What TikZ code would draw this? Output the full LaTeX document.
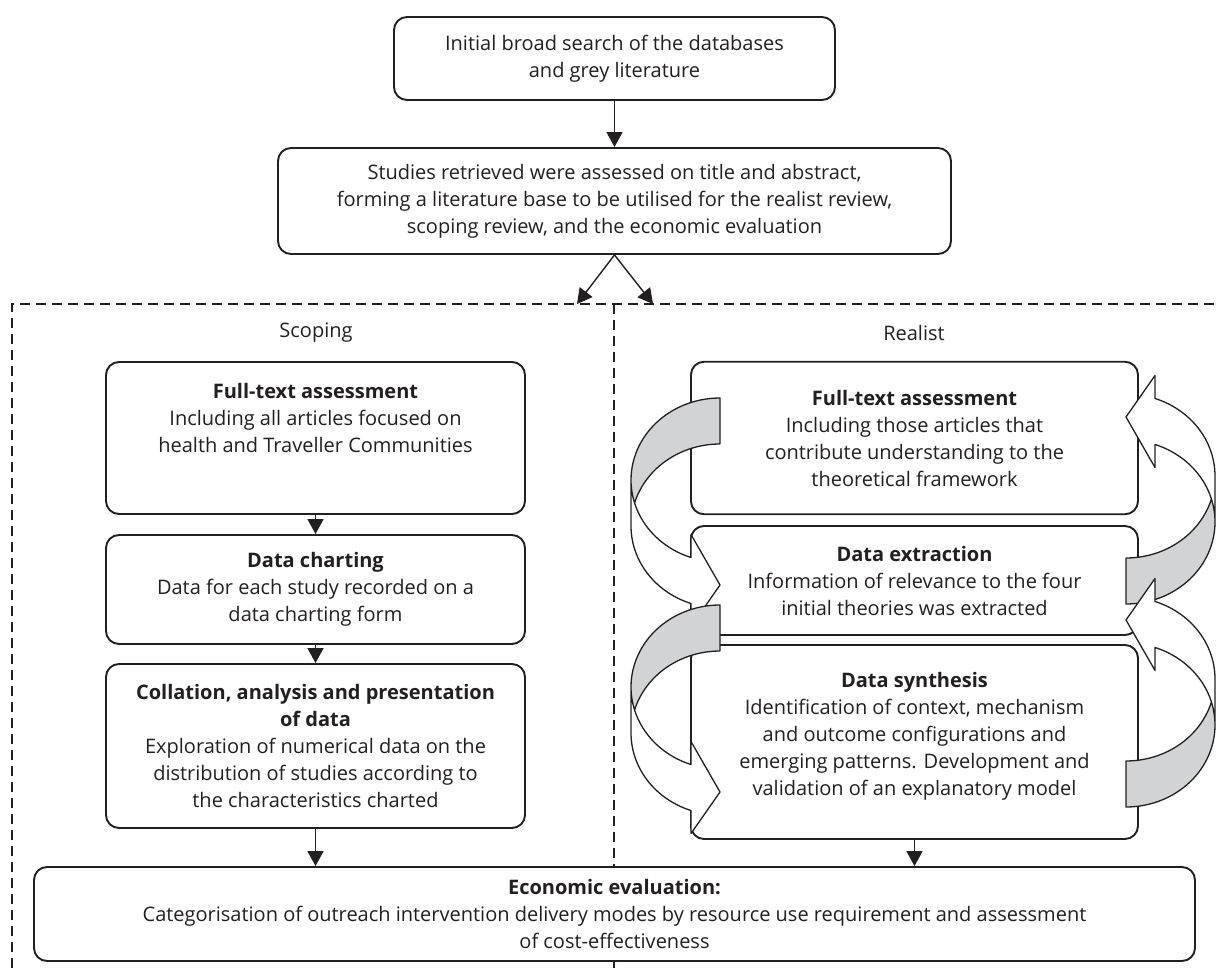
\documentclass[tikz,border=0pt]{standalone}
\usepackage{fontspec}
\setmainfont{Open Sans}
\usetikzlibrary{arrows.meta}
\definecolor{ink}{HTML}{231F20}
\definecolor{backgray}{HTML}{D1D3D4}
\newcommand{\curvarrow}[1]{%
  \begin{scope}[#1]
    \fill[white] plot[domain=180:109.015, samples=30, variable=\t] ({89+89*cos(\t)},{82+82*sin(\t)})
      -- (60,136.52) -- (89,187) -- (60,228.52) -- (60,205.52)
      -- plot[domain=109.015:180, samples=30, variable=\t] ({89+89*cos(\t)},{128+82*sin(\t)}) -- cycle;
    \fill[backgray] (89,46)
      -- plot[domain=270:196.29, samples=30, variable=\t] ({89+89*cos(\t)},{128+82*sin(\t)})
      -- plot[domain=163.71:270, samples=30, variable=\t] ({89+89*cos(\t)},{82+82*sin(\t)}) -- cycle;
    \draw[curv] plot[domain=180:109.015, samples=30, variable=\t] ({89+89*cos(\t)},{82+82*sin(\t)})
      -- (60,136.52) -- (89,187) -- (60,228.52) -- (60,205.52)
      -- plot[domain=109.015:180, samples=30, variable=\t] ({89+89*cos(\t)},{128+82*sin(\t)})
      -- (0,82)
      -- plot[domain=180:270, samples=30, variable=\t] ({89+89*cos(\t)},{82+82*sin(\t)})
      -- (89,46)
      -- plot[domain=270:196.29, samples=30, variable=\t] ({89+89*cos(\t)},{128+82*sin(\t)});
  \end{scope}}
\begin{document}
\begin{tikzpicture}[x=1pt, y=-1pt,
  font=\fontsize{20}{27}\selectfont,
  box/.style={draw=ink, line width=1.9pt, rounded corners=13pt, fill=white,
    align=center, inner sep=0pt, text=ink},
  txt/.style={text=ink, inner sep=0pt},
  conn/.style={draw=ink, line width=1.4pt, -{Triangle[width=16pt,length=15pt]}},
  frame/.style={draw=ink, line width=1.3pt, dash pattern=on 10pt off 6pt},
  curv/.style={draw=ink, line width=1.3pt, line join=round}]
\useasboundingbox (0,0) rectangle (1216,968);
\clip (0,0) rectangle (1216,968);

% dashed frames
\draw[frame] (12,1000) -- (12,304) -- (1230,304);
\draw[frame] (614,304) -- (614,1000);
\coordinate (sTip) at (577,304);
\coordinate (rTip) at (653,304);

\node[txt] (scopingLbl) at (316,333) {Scoping};
\node[txt] (realistLbl) at (914,333) {Realist};

% top boxes
\node[box, minimum width=441, minimum height=83] (init) at (614.5,58.5)
  {Initial broad search of the databases\\and grey literature};
\node[box, minimum width=673, minimum height=106] (retr) at (614.5,201)
  {Studies retrieved were assessed on title and abstract,\\forming a literature base to be utilised for the realist review,\\scoping review, and the economic evaluation};

% scoping column
\node[box, minimum width=419, minimum height=152] (sft) at (315.5,438)
  {\textbf{Full-text assessment}\\Including all articles focused on\\health and Traveller Communities\\[13pt]\mbox{}};
\node[box, minimum width=419, minimum height=109] (sdc) at (315.5,589.5)
  {\textbf{Data charting}\\Data for each study recorded on a\\data charting form};
\node[box, minimum width=419, minimum height=164] (scol) at (315.5,746)
  {\textbf{Collation, analysis and presentation}\\\textbf{of data}\\Exploration of numerical data on the\\distribution of studies according to\\the characteristics charted};

% realist column
\node[box, minimum width=447, minimum height=152.5] (rft) at (914.5,438)
  {\textbf{Full-text assessment}\\Including those articles that\\contribute understanding to the\\theoretical framework};
\node[box, minimum width=447, minimum height=109] (rde) at (914.5,580.5)
  {\textbf{Data extraction}\\Information of relevance to the four\\initial theories was extracted};
\node[box, minimum width=447, minimum height=194] (rds) at (914.5,742)
  {\textbf{Data synthesis}\\Identification of context, mechanism\\and outcome configurations and\\emerging patterns. Development and\\validation of an explanatory model\\[-10pt]\mbox{}};

% economic evaluation
\node[box, minimum width=1161, minimum height=94] (econ) at (614.5,914)
  {\textbf{Economic evaluation:}\\Categorisation of outreach intervention delivery modes by resource use requirement and assessment\\of cost-effectiveness};

% connectors
\draw[conn] (init) -- (retr);
\draw[conn] (retr.south) -- (sTip);
\draw[conn] (retr.south) -- (rTip);
\draw[conn] (sft) -- (sdc);
\draw[conn] (sdc) -- (scol);
\draw[conn] (scol.south) -- (scol.south |- econ.north);
\draw[conn] (rds.south) -- (rds.south |- econ.north);

% curved block arrows
\curvarrow{shift={(631,398)}}
\curvarrow{shift={(631,605)}}
\curvarrow{shift={(1215,604)}, rotate=180}
\curvarrow{shift={(1215,807)}, rotate=180}
\end{tikzpicture}
\end{document}
